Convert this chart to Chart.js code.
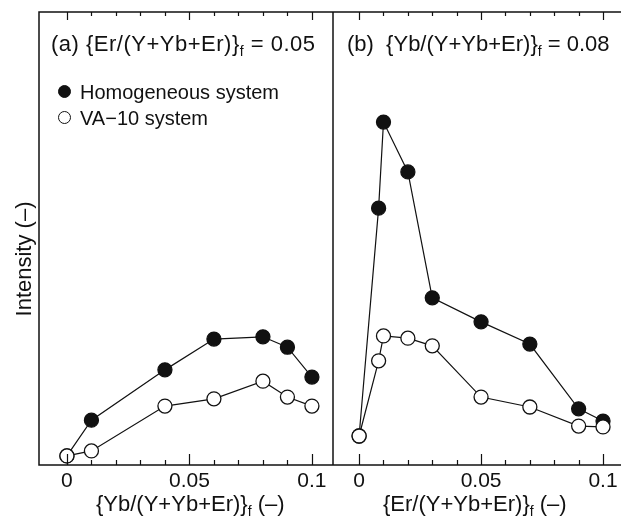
<!DOCTYPE html>
<html>
<head>
<meta charset="utf-8">
<script src="https://cdn.jsdelivr.net/npm/chart.js@4/dist/chart.umd.min.js"></script>
<style>
  html, body { margin: 0; padding: 0; background: #fff; overflow: hidden; }
  body { width: 621px; height: 519px; position: relative; font-family: "Liberation Sans", Arial, sans-serif; color: #111; }
  .box { position: absolute; top: 0; height: 519px; }
  .txt { position: absolute; white-space: pre; font-size: 22px; line-height: 22px; }
  .leg { font-size: 20px; line-height: 20px; }
  .txt sub { font-size: 14px; vertical-align: -5px; line-height: 0; }
  .dot { position: absolute; width: 13px; height: 13px; border-radius: 50%; box-sizing: border-box; border: 1.3px solid #111; }
  .ytitle { left: -46px; top: 248px; width: 140px; text-align: center; transform: rotate(-90deg); transform-origin: 70px 11px; }
</style>
</head>
<body>
<div class="box" style="left:0;width:333px"><canvas id="panelA"></canvas></div>
<div class="box" style="left:333px;width:291px"><canvas id="panelB"></canvas></div>

<div class="txt" style="left:51px;top:33px;letter-spacing:0.5px">(a) {Er/(Y+Yb+Er)}<sub>f</sub> = 0.05</div>
<div class="txt" style="left:347px;top:33px">(b)  {Yb/(Y+Yb+Er)}<sub>f</sub> = 0.08</div>
<span class="dot" style="left:58px;top:85px;background:#111"></span>
<div class="txt leg" style="left:80px;top:82px">Homogeneous system</div>
<span class="dot" style="left:58px;top:111px;background:#fff"></span>
<div class="txt leg" style="left:80px;top:108px">VA−10 system</div>
<div class="txt" style="left:96px;top:493px">{Yb/(Y+Yb+Er)}<sub>f</sub> (–)</div>
<div class="txt" style="left:383px;top:493px">{Er/(Y+Yb+Er)}<sub>f</sub> (–)</div>
<div class="txt ytitle">Intensity (–)</div>

<script>
// (a) Er fixed at 0.05, Yb varied
const ybContent = [0, 0.01, 0.04, 0.06, 0.08, 0.09, 0.10];
const homoA = [2.0, 9.9, 21.0, 27.8, 28.3, 26.0, 19.4];
const va10A = [2.0, 3.1, 13.0, 14.6, 18.5, 15.0, 13.0];

// (b) Yb fixed at 0.08, Er varied
const erContent = [0, 0.008, 0.01, 0.02, 0.03, 0.05, 0.07, 0.09, 0.10];
const homoB = [6.4, 56.7, 75.7, 64.7, 36.9, 31.6, 26.7, 12.4, 9.7];
const va10B = [6.4, 23.0, 28.5, 28.0, 26.3, 15.0, 12.8, 8.6, 8.4];

const majorTicks = [0, 0.05, 0.1];
const tickLabels = ['0', '0.05', '0.1'];
const minorTicks = [0, 0.01, 0.02, 0.03, 0.04, 0.05, 0.06, 0.07, 0.08, 0.09, 0.1];

const INK = '#111';

function pts(xs, ys) {
  return xs.map((x, i) => ({ x: x, y: ys[i] }));
}

// frame + inward tick marks on top and bottom edges
const framePlugin = {
  id: 'frame',
  afterDraw(chart) {
    const { ctx, chartArea: a } = chart;
    const xs = chart.scales.x;
    ctx.save();
    ctx.strokeStyle = INK;
    ctx.lineWidth = 1.5;
    ctx.strokeRect(a.left, a.top, a.right - a.left, a.bottom - a.top);
    ctx.lineWidth = 1.2;
    minorTicks.forEach(v => {
      const px = Math.round(xs.getPixelForValue(v)) + 0.5;
      const major = majorTicks.some(m => Math.abs(m - v) < 1e-9);
      ctx.beginPath();
      ctx.moveTo(px, a.bottom);
      ctx.lineTo(px, a.bottom - (major ? 11 : 5));
      ctx.moveTo(px, a.top);
      ctx.lineTo(px, a.top + (major ? 8 : 4));
      ctx.stroke();
    });
    ctx.restore();
  }
};

function makePanel(id, xs, homo, va10, padLeft, xMin) {
  return new Chart(document.getElementById(id), {
    type: 'line',
    data: {
      datasets: [
        {
          label: 'VA-10 system',
          data: pts(xs, va10),
          borderColor: INK, borderWidth: 1.2,
          pointRadius: 7, pointBackgroundColor: '#fff',
          pointBorderColor: INK, pointBorderWidth: 1.3,
          tension: 0
        },
        {
          label: 'Homogeneous system',
          data: pts(xs, homo),
          borderColor: INK, borderWidth: 1.2,
          pointRadius: 7, pointBackgroundColor: INK,
          pointBorderColor: INK, pointBorderWidth: 1.3,
          tension: 0
        }
      ]
    },
    options: {
      responsive: true,
      maintainAspectRatio: false,
      animation: false,
      layout: { autoPadding: false, padding: { left: padLeft, top: 12, right: 0, bottom: 0 } },
      plugins: { legend: { display: false }, tooltip: { enabled: false } },
      scales: {
        x: {
          type: 'linear',
          min: xMin,
          max: 0.1086,
          grid: { display: false, drawTicks: false },
          border: { display: false },
          afterBuildTicks(scale) {
            scale.ticks = majorTicks.map(v => ({ value: v }));
          },
          afterFit(scale) {
            scale.height = 54;
            scale.paddingLeft = 0;
            scale.paddingRight = 0;
          },
          ticks: {
            padding: 4,
            color: INK,
            font: { family: '"Liberation Sans", Arial, sans-serif', size: 21 },
            callback: (v) => tickLabels[majorTicks.findIndex(m => Math.abs(m - v) < 1e-9)]
          }
        },
        y: { display: false, min: 0, max: 100 }
      }
    },
    plugins: [framePlugin]
  });
}

makePanel('panelA', ybContent, homoA, va10A, 39, -0.0114);
makePanel('panelB', erContent, homoB, va10B, 0, -0.0107);
</script>
</body>
</html>
